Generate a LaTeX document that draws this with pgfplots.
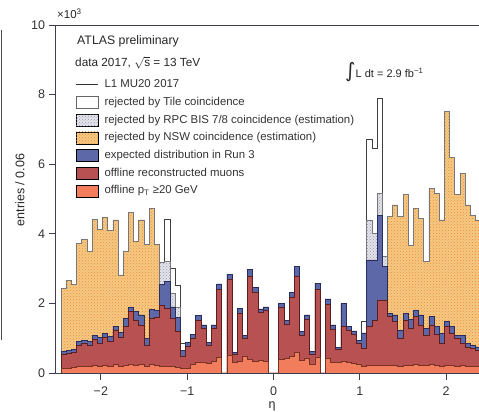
\documentclass[border=0pt]{standalone}
\usepackage{pgfplots}
\pgfplotsset{compat=1.18}
\usepackage{pgfplotstable}
\usetikzlibrary{patterns}
\usepackage{fontspec}
\setmainfont{Liberation Sans}
\newfontfamily\dejavu{DejaVu Sans}

\definecolor{cblue}{RGB}{92,104,168}
\definecolor{cblueedge}{RGB}{40,45,95}
\definecolor{cred}{RGB}{184,82,82}
\definecolor{crededge}{RGB}{90,30,30}
\definecolor{csalmon}{RGB}{242,125,92}
\definecolor{csalmonedge}{RGB}{120,50,35}
\definecolor{corange}{RGB}{246,200,132}
\definecolor{corangedot}{RGB}{232,145,55}
\definecolor{cgray}{RGB}{228,228,236}
\definecolor{cgraydot}{RGB}{150,150,170}
\definecolor{cedge}{RGB}{120,120,120}
\definecolor{caxis}{RGB}{60,62,80}

\pgfplotstableread{
x A B C D E F
-2.46 2.43 2.43 2.43 0.63 0.55 0.13
-2.40 2.67 2.67 2.67 0.66 0.57 0.14
-2.34 2.55 2.55 2.55 0.68 0.58 0.15
-2.28 3.73 3.73 3.73 0.91 0.79 0.18
-2.22 3.84 3.84 3.84 0.93 0.84 0.19
-2.16 3.49 3.49 3.49 0.91 0.80 0.18
-2.10 4.42 4.42 4.42 1.07 0.97 0.21
-2.04 4.13 4.13 4.13 1.03 0.84 0.20
-1.98 4.47 4.47 4.47 1.14 1.03 0.22
-1.92 4.09 4.09 4.09 1.05 0.91 0.20
-1.86 4.40 4.40 4.40 1.35 1.22 0.24
-1.80 2.82 2.82 2.82 1.16 1.03 0.20
-1.74 3.49 3.49 3.49 1.57 1.33 0.23
-1.68 4.62 4.62 4.62 1.89 1.76 0.26
-1.62 3.77 3.77 3.77 1.76 1.52 0.22
-1.56 4.40 4.40 4.40 1.67 1.38 0.25
-1.50 3.70 3.70 3.70 1.00 0.79 0.20
-1.44 4.73 4.73 4.73 1.83 1.57 0.24
-1.38 3.70 3.70 3.70 1.80 1.60 0.22
-1.32 3.17 3.17 2.55 2.55 1.93 0.20
-1.26 4.42 3.20 2.62 2.62 1.86 0.18
-1.20 3.01 2.30 1.90 1.90 1.57 0.20
-1.14 2.53 1.90 1.60 1.60 1.20 0.17
-1.08 0.85 0.64 0.64 0.64 0.47 0.13
-1.02 0.88 0.88 0.88 0.88 0.77 0.14
-0.96 1.12 1.12 1.12 1.12 1.00 0.25
-0.90 1.65 1.65 1.65 1.65 1.52 0.30
-0.84 1.38 1.38 1.38 1.38 1.28 0.32
-0.78 0.88 0.88 0.88 0.88 0.80 0.28
-0.72 1.38 1.38 1.38 1.38 1.28 0.33
-0.66 2.56 2.56 2.56 2.56 2.41 0.45
-0.60 0 0 0 0 0 0
-0.54 2.84 2.84 2.84 2.84 2.68 0.52
-0.48 0.60 0.60 0.60 0.60 0.55 0.30
-0.42 1.86 1.86 1.86 1.86 1.72 0.33
-0.36 1.09 1.09 1.09 1.09 1.00 0.48
-0.30 2.97 2.97 2.97 2.97 2.77 0.38
-0.24 2.46 2.46 2.46 2.46 2.31 0.33
-0.18 1.84 1.84 1.84 1.84 1.73 0.35
-0.12 1.90 1.90 1.90 1.90 1.81 0.33
-0.06 0 0 0 0 0 0
0.00 0 0 0 0 0 0
0.06 1.99 1.99 1.99 1.99 1.88 0.40
0.12 1.50 1.50 1.50 1.50 1.40 0.42
0.18 2.31 2.31 2.31 2.31 2.17 0.48
0.24 3.07 3.07 3.07 3.07 2.77 0.60
0.30 1.19 1.19 1.19 1.19 1.08 0.35
0.36 1.67 1.67 1.67 1.67 1.55 0.42
0.42 0.62 0.62 0.62 0.62 0.53 0.26
0.48 2.58 2.58 2.58 2.58 2.40 0.45
0.54 0 0 0 0 0 0
0.60 2.13 2.13 2.13 2.13 1.96 0.42
0.66 1.38 1.38 1.38 1.38 1.25 0.30
0.72 0.74 0.74 0.74 0.74 0.68 0.30
0.78 1.99 1.99 1.99 1.99 1.35 0.33
0.84 1.35 1.35 1.35 1.35 1.23 0.30
0.90 1.21 1.21 1.21 1.21 1.12 0.27
0.96 0.93 0.93 0.93 0.93 0.85 0.26
1.02 1.47 1.15 1.15 1.15 0.72 0.20
1.08 6.70 4.40 3.25 3.25 1.33 0.22
1.14 6.46 4.01 3.25 3.25 1.52 0.22
1.20 7.89 5.16 4.54 4.54 2.10 0.22
1.26 3.34 3.34 3.06 3.06 2.10 0.22
1.32 4.49 4.49 4.49 1.72 1.62 0.22
1.38 4.83 4.83 4.83 1.67 1.47 0.22
1.44 4.49 4.49 4.49 1.23 0.99 0.20
1.50 5.12 5.12 5.12 1.72 1.52 0.22
1.56 3.68 3.68 3.68 1.55 1.28 0.22
1.62 4.74 4.74 4.74 1.81 1.62 0.24
1.68 4.45 4.45 4.45 1.67 1.38 0.22
1.74 3.21 3.21 3.21 1.28 1.09 0.22
1.80 5.31 5.31 5.31 1.62 1.38 0.24
1.86 5.16 5.16 5.16 1.35 1.10 0.22
1.92 4.40 4.40 4.40 1.14 0.85 0.20
1.98 7.51 7.51 7.51 1.47 1.35 0.22
2.04 6.20 6.20 6.20 1.33 1.14 0.22
2.10 5.14 5.14 5.14 1.09 0.99 0.20
2.16 5.74 5.74 5.74 1.07 0.85 0.22
2.22 4.83 4.83 4.83 0.85 0.75 0.20
2.28 4.54 4.54 4.54 0.80 0.71 0.20
2.34 4.40 4.40 4.40 0.75 0.66 0.18
2.40 4.40 4.40 4.40 0.75 0.66 0.18
2.46 4.40 4.40 4.40 0.75 0.66 0.18
}\histdata

\pgfplotsset{
  boxleg/.style={legend image code/.code={\draw[##1] (0pt,-6pt) rectangle (22pt,6pt);}},
  lineleg/.style={legend image code/.code={\draw[##1] (0pt,0pt) -- (22pt,0pt);}},
  hist/.style={const plot mark left, line width=0.7pt, forget plot},
}

\begin{document}
\begin{tikzpicture}
\path[use as bounding box] (0,0) rectangle (479pt,412pt);
\begin{axis}[
  at={(55.5pt,39pt)}, anchor=south west,
  scale only axis, width=423.5pt, height=348pt,
  xmin=-2.525, xmax=2.38, ymin=0, ymax=10,
  axis x line*=box, axis y line*=left,
  axis line style={caxis, line width=0.8pt},
  xtick={-2,-1,0,1,2}, xticklabels={−2,−1,0,1,2},
  ytick={0,2,4,6,8,10},
  xtick pos=bottom, ytick pos=left,
  tick align=outside, major tick length=7pt,
  tick style={caxis, line width=0.8pt},
  tick label style={font=\fontsize{12.5}{12.5}\selectfont, text=black!80},
  xticklabel style={yshift=-3pt},
  /pgf/number format/assume math mode=true,
  legend style={at={(rel axis cs:0.047,0.849)}, anchor=north west, draw=none, fill=none,
    font=\fontsize{11.4}{13}\selectfont, row sep=3.7pt, inner sep=0pt,
    nodes={inner sep=1pt, text height=9pt, text depth=3pt, text=black!80},
    /tikz/every odd column/.append style={column sep=4.5pt}},
  legend cell align=left,
]
\addplot[hist, draw=black!75, fill=white] table[x=x,y=A] {\histdata} \closedcycle;
\addplot[hist, draw=cedge, fill=cgray, postaction={pattern=crosshatch dots, pattern color=cgraydot}] table[x=x,y=B] {\histdata} \closedcycle;
\addplot[hist, draw=cedge, fill=corange, postaction={pattern=crosshatch dots, pattern color=corangedot}] table[x=x,y=C] {\histdata} \closedcycle;
\addplot[hist, draw=cblueedge, fill=cblue] table[x=x,y=D] {\histdata} \closedcycle;
\addplot[hist, draw=crededge, fill=cred] table[x=x,y=E] {\histdata} \closedcycle;
\addplot[hist, draw=csalmonedge, fill=csalmon] table[x=x,y=F] {\histdata} \closedcycle;

\addlegendimage{lineleg, black!80, line width=1.4pt}
\addlegendentry{L1 MU20 2017}
\addlegendimage{boxleg, draw=black!60, fill=white}
\addlegendentry{rejected by Tile coincidence}
\addlegendimage{boxleg, draw=none, fill=cgray, postaction={pattern=crosshatch dots, pattern color=cgraydot}}
\addlegendentry{rejected by RPC BIS 7/8 coincidence (estimation)}
\addlegendimage{boxleg, draw=none, fill=corange, postaction={pattern=crosshatch dots, pattern color=corangedot}}
\addlegendentry{rejected by NSW coincidence (estimation)}
\addlegendimage{boxleg, draw=none, fill=cblue}
\addlegendentry{expected distribution in Run 3}
\addlegendimage{boxleg, draw=none, fill=cred}
\addlegendentry{offline reconstructed muons}
\addlegendimage{boxleg, draw=none, fill=csalmon}
\addlegendentry{offline p\textsubscript{T} ≥20 GeV}
\end{axis}
\node[anchor=west, inner sep=0pt, text=black!85, font=\fontsize{12.3}{12}\selectfont] at (77pt,371pt) {ATLAS preliminary};
\node[anchor=west, inner sep=0pt, text=black!85, font=\fontsize{11.8}{12}\selectfont] at (75pt,349pt) {data 2017, \smash{$\sqrt{\mathrm{s}}$} = 13 TeV};
\node[anchor=west, text=black!85, font=\fontsize{11}{12}\selectfont, inner sep=0pt] at (345pt,340pt) {{\dejavu\fontsize{20}{20}\selectfont ∫}L dt = 2.9 fb\textsuperscript{−1}};
\node[anchor=west, text=black!85, font=\fontsize{11.5}{12}\selectfont, inner sep=0pt] at (57pt,398pt) {×10\textsuperscript{3}};
\node[rotate=90, text=black!85, font=\fontsize{12.5}{12}\selectfont] at (20pt,222pt) {entries / 0.06};
\node[inner sep=0pt, text=black!85, font=\fontsize{12.5}{12}\selectfont] at (272pt,6pt) {η};
\draw[black!70, line width=1.5pt] (1.5pt,382pt) -- (1.5pt,72pt);
\end{tikzpicture}
\end{document}
